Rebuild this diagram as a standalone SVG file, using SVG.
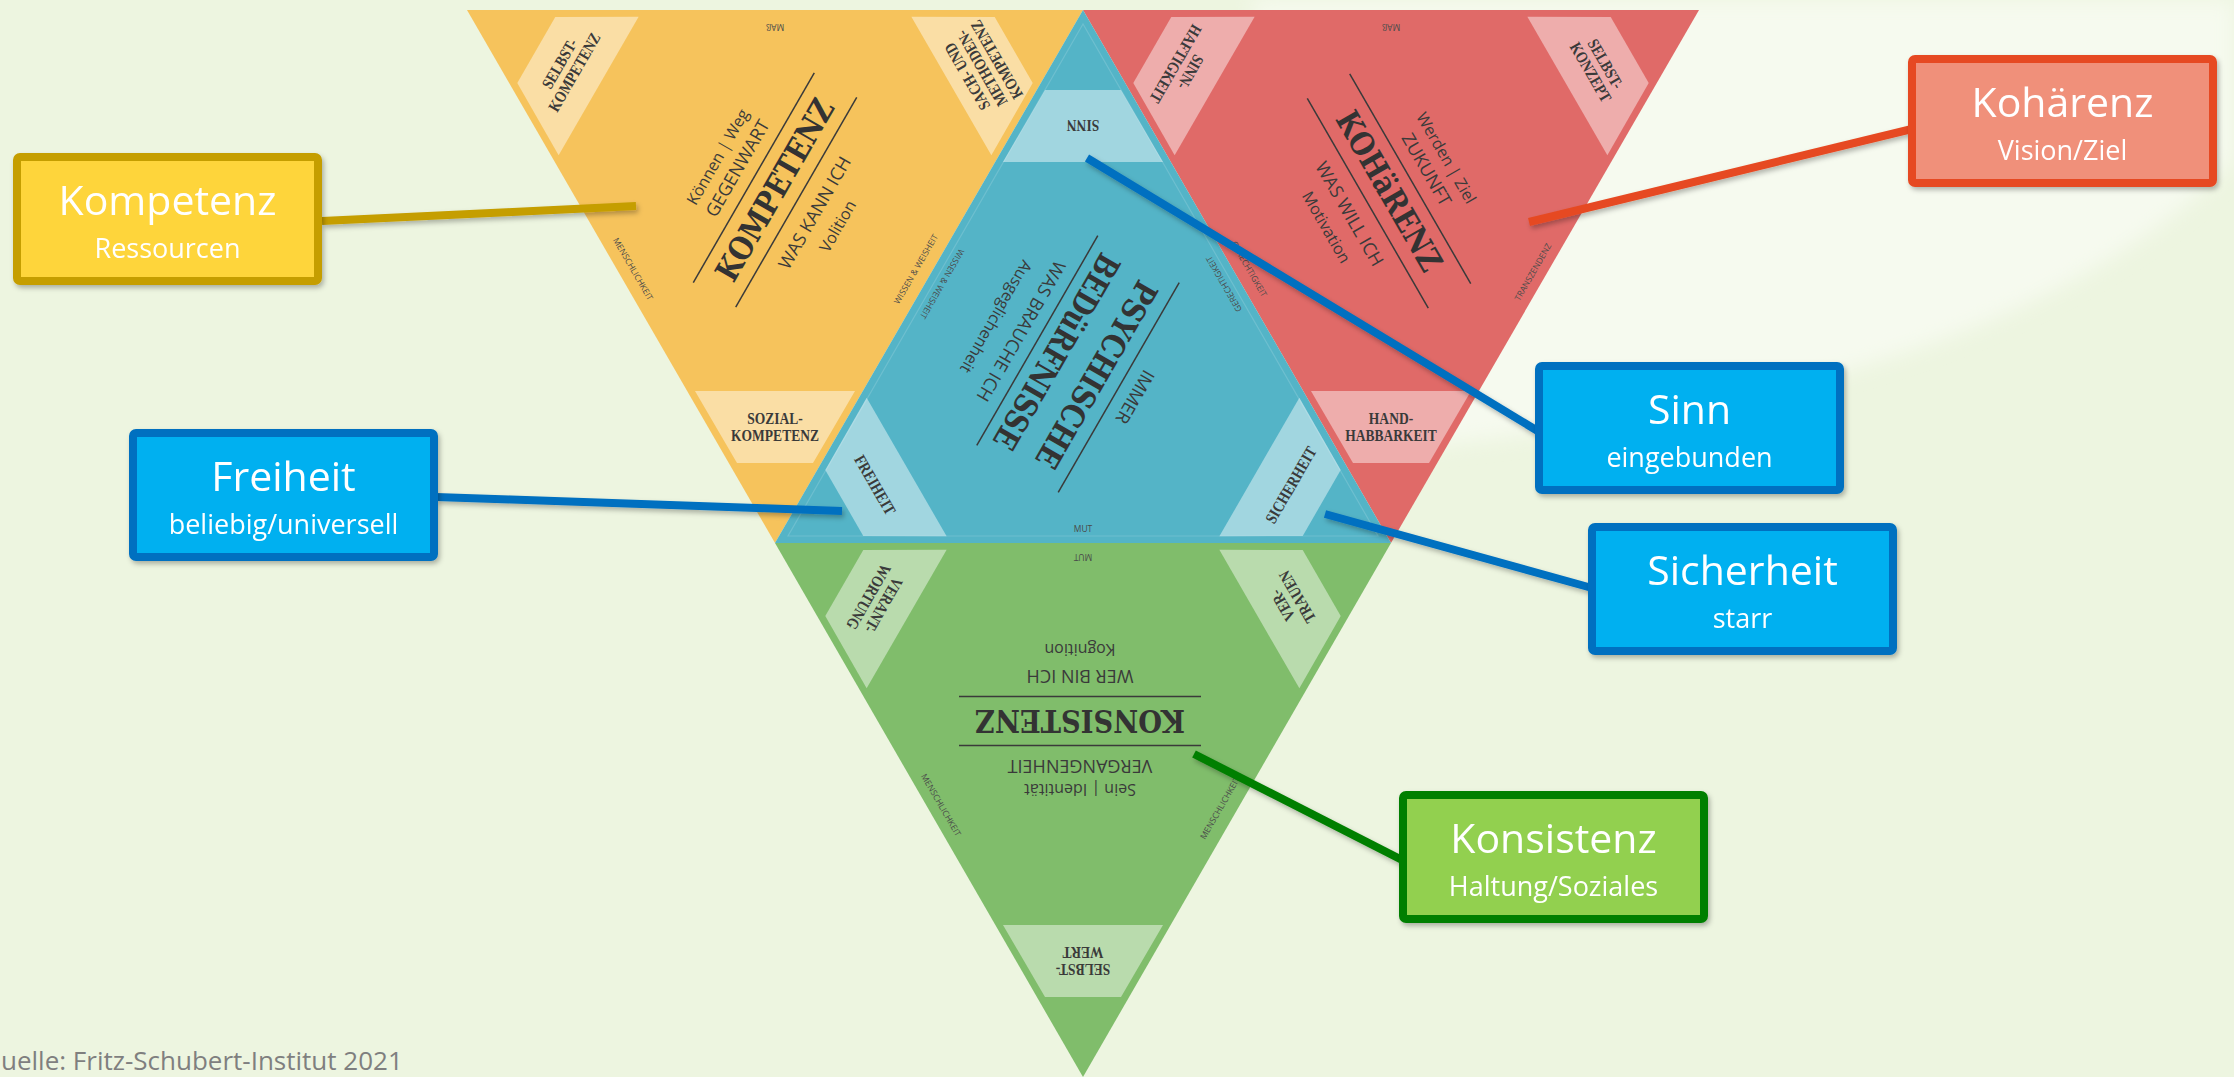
<svg xmlns="http://www.w3.org/2000/svg" width="2234" height="1077" viewBox="0 0 2234 1077">
<defs>
<style>
.bg{fill:#EDF5E0}
.tri-o{fill:#F6C35C}
.tri-r{fill:#E06A68}
.tri-b{fill:#54B4C7}
.tri-g{fill:#80BD6B}
.tab{fill:#ffffff;fill-opacity:0.45}
.tabt{font-family:"Liberation Serif",serif;font-weight:bold;font-size:16.5px;fill:#3a3a3a;text-anchor:middle}
.ttl{font-family:"DejaVu Serif","Liberation Serif",serif;font-weight:bold;font-size:32px;fill:#333333;text-anchor:middle}
.cap{font-family:"Open Sans","Liberation Sans",sans-serif;font-size:18px;fill:#3a3a3a;text-anchor:middle}
.sub{font-family:"Open Sans","Liberation Sans",sans-serif;font-size:16px;fill:#3a3a3a;text-anchor:middle}
.edge{font-family:"Open Sans","Liberation Sans",sans-serif;font-size:8.5px;fill:#4a4a4a;text-anchor:middle}
.rule{stroke:#3a3a3a;stroke-width:1.5}
.bt{font-family:"Open Sans","Liberation Sans",sans-serif;font-size:41px;fill:#ffffff;text-anchor:middle}
.bs{font-family:"Open Sans","Liberation Sans",sans-serif;font-size:27px;fill:#ffffff;text-anchor:middle}
.conn{stroke-width:8;fill:none;stroke-linecap:butt}
.src{font-family:"Open Sans","Liberation Sans",sans-serif;font-size:26px;fill:#7f7f7f}
</style>
<filter id="sh" filterUnits="userSpaceOnUse" x="0" y="0" width="2234" height="1077">
<feDropShadow dx="2" dy="3" stdDeviation="2.5" flood-color="#000000" flood-opacity="0.28"/>
</filter>
<filter id="soft" filterUnits="userSpaceOnUse" x="0" y="0" width="2234" height="1077">
<feGaussianBlur stdDeviation="10"/>
</filter>
<polygon id="tabshape" points="80,-38 152,-80 152,80 80,38"/>
</defs>

<rect class="bg" x="0" y="0" width="2234" height="1077"/>
<path d="M 1380 450 C 1720 420 2050 350 2234 160 L 2234 0 L 1250 0 Z" fill="#F6FAEF" filter="url(#soft)"/>

<g id="triangle-kompetenz">
<polygon class="tri-o" points="467,10 1083,10 775,543"/>
<use href="#tabshape" class="tab" transform="translate(467,10) rotate(30)"/>
<use href="#tabshape" class="tab" transform="translate(1083,10) rotate(150)"/>
<use href="#tabshape" class="tab" transform="translate(775,543) rotate(-90)"/>
<g transform="translate(567,68) rotate(-60) scale(0.82,1)"><text class="tabt" y="-3">SELBST-</text><text class="tabt" y="14">KOMPETENZ</text></g>
<g transform="translate(982,68) rotate(-120) scale(0.82,1)"><text class="tabt" y="-11.5">SACH- UND</text><text class="tabt" y="5.5">METHODEN-</text><text class="tabt" y="22.5">KOMPETENZ</text></g>
<g transform="translate(775,427) scale(0.82,1)"><text class="tabt" y="-3">SOZIAL-</text><text class="tabt" y="14">KOMPETENZ</text></g>
<text class="edge" transform="translate(775,24) rotate(180)">MAß</text>
<text class="edge" transform="translate(633,269) rotate(60)" dy="3">MENSCHLICHKEIT</text>
<text class="edge" transform="translate(916,269) rotate(-60)" dy="3">WISSEN &amp; WEISHEIT</text>
<g transform="translate(775,190) rotate(-60)">
<text class="sub" y="-60.5">Können | Weg</text>
<text class="cap" y="-37">GEGENWART</text>
<line class="rule" x1="-121" y1="-24.5" x2="121" y2="-24.5"/>
<text class="ttl" y="11" textLength="204" lengthAdjust="spacingAndGlyphs">KOMPETENZ</text>
<line class="rule" x1="-121" y1="24.5" x2="121" y2="24.5"/>
<text class="cap" y="52">WAS KANN ICH</text>
<text class="sub" y="78">Volition</text>
</g>
</g>

<g id="triangle-kohaerenz">
<polygon class="tri-r" points="1083,10 1699,10 1391,543"/>
<use href="#tabshape" class="tab" transform="translate(1083,10) rotate(30)"/>
<use href="#tabshape" class="tab" transform="translate(1699,10) rotate(150)"/>
<use href="#tabshape" class="tab" transform="translate(1391,543) rotate(-90)"/>
<g transform="translate(1183,68) rotate(120) scale(0.82,1)"><text class="tabt" y="-3">SINN-</text><text class="tabt" y="14">HAFTIGKEIT</text></g>
<g transform="translate(1598,68) rotate(60) scale(0.82,1)"><text class="tabt" y="-3">SELBST-</text><text class="tabt" y="14">KONZEPT</text></g>
<g transform="translate(1391,427) scale(0.82,1)"><text class="tabt" y="-3">HAND-</text><text class="tabt" y="14">HABBARKEIT</text></g>
<text class="edge" transform="translate(1391,24) rotate(180)">MAß</text>
<text class="edge" transform="translate(1249,269) rotate(60)" dy="3">GERECHTIGKEIT</text>
<text class="edge" transform="translate(1533,272) rotate(-60)" dy="3">TRANSZENDENZ</text>
<g transform="translate(1389,191) rotate(60)">
<text class="sub" y="-60.5">Werden | Ziel</text>
<text class="cap" y="-37">ZUKUNFT</text>
<line class="rule" x1="-121" y1="-24.5" x2="121" y2="-24.5"/>
<text class="ttl" y="11" textLength="179" lengthAdjust="spacingAndGlyphs">KOHäRENZ</text>
<line class="rule" x1="-121" y1="24.5" x2="121" y2="24.5"/>
<text class="cap" y="52">WAS WILL ICH</text>
<text class="sub" y="78">Motivation</text>
</g>
</g>

<g id="triangle-beduerfnisse">
<polygon class="tri-b" points="1083,10 775,543 1391,543"/>
<polygon points="1083,24 788,536 1378,536" fill="none" stroke="#ffffff" stroke-opacity="0.15" stroke-width="1.2"/>
<use href="#tabshape" class="tab" transform="translate(1083,10) rotate(90)"/>
<use href="#tabshape" class="tab" transform="translate(775,543) rotate(-30)"/>
<use href="#tabshape" class="tab" transform="translate(1391,543) rotate(-150)"/>
<g transform="translate(1083,126) rotate(180) scale(0.82,1)"><text class="tabt" y="5.5">SINN</text></g>
<g transform="translate(875,485) rotate(60) scale(0.82,1)"><text class="tabt" y="5.5">FREIHEIT</text></g>
<g transform="translate(1291,485) rotate(-60) scale(0.82,1)"><text class="tabt" y="5.5">SICHERHEIT</text></g>
<text class="edge" transform="translate(942,284) rotate(120)" dy="3">WISSEN &amp; WEISHEIT</text>
<text class="edge" transform="translate(1224,284) rotate(-120)" dy="3">GERECHTIGKEIT</text>
<text class="edge" x="1083" y="532">MUT</text>
<g transform="translate(1078,364) rotate(120)">
<text class="cap" y="-59.5">IMMER</text>
<line class="rule" x1="-121" y1="-47" x2="121" y2="-47"/>
<text class="ttl" y="-10" textLength="210" lengthAdjust="spacingAndGlyphs">PSYCHISCHE</text>
<text class="ttl" y="36" textLength="220" lengthAdjust="spacingAndGlyphs">BEDüRFNISSE</text>
<line class="rule" x1="-121" y1="47" x2="121" y2="47"/>
<text class="cap" y="72">WAS BRAUCHE ICH</text>
<text class="sub" y="100">Ausgeglichenheit</text>
</g>
</g>

<g id="triangle-konsistenz">
<polygon class="tri-g" points="775,543 1391,543 1083,1077"/>
<use href="#tabshape" class="tab" transform="translate(775,543) rotate(30)"/>
<use href="#tabshape" class="tab" transform="translate(1391,543) rotate(150)"/>
<use href="#tabshape" class="tab" transform="translate(1083,1077) rotate(-90)"/>
<g transform="translate(876,601) rotate(120) scale(0.82,1)"><text class="tabt" y="-3">VERANT-</text><text class="tabt" y="14">WORTUNG</text></g>
<g transform="translate(1290,601) rotate(-120) scale(0.82,1)"><text class="tabt" y="-3">VER-</text><text class="tabt" y="14">TRAUEN</text></g>
<g transform="translate(1083,961) rotate(180) scale(0.82,1)"><text class="tabt" y="-3">SELBST-</text><text class="tabt" y="14">WERT</text></g>
<text class="edge" transform="translate(1083,554) rotate(180)">MUT</text>
<text class="edge" transform="translate(941,805) rotate(60)" dy="3">MENSCHLICHKEIT</text>
<text class="edge" transform="translate(1220,808) rotate(-60)" dy="3">MENSCHLICHKEIT</text>
<g transform="translate(1080,721) rotate(180)">
<text class="sub" y="-62.5">Sein | Identität</text>
<text class="cap" y="-38.5">VERGANGENHEIT</text>
<line class="rule" x1="-121" y1="-24.5" x2="121" y2="-24.5"/>
<text class="ttl" y="11" textLength="210" lengthAdjust="spacingAndGlyphs">KONSISTENZ</text>
<line class="rule" x1="-121" y1="24.5" x2="121" y2="24.5"/>
<text class="cap" y="51.5">WER BIN ICH</text>
<text class="sub" y="77.5">Kognition</text>
</g>
</g>

<g id="connectors" filter="url(#sh)">
<line class="conn" stroke="#C59E00" x1="322" y1="221" x2="636" y2="206"/>
<line class="conn" stroke="#0070C0" x1="436" y1="497" x2="842" y2="511"/>
<line class="conn" stroke="#E64A22" x1="1912" y1="129" x2="1529" y2="222"/>
<line class="conn" stroke="#0070C0" x1="1087" y1="158" x2="1541" y2="433"/>
<line class="conn" stroke="#0070C0" x1="1325" y1="514" x2="1592" y2="588"/>
<line class="conn" stroke="#007F00" x1="1194" y1="754" x2="1406" y2="862"/>
</g>

<g id="box-kompetenz" filter="url(#sh)">
<rect x="17" y="157" width="301" height="124" rx="3" fill="#FED53A" stroke="#C59E00" stroke-width="8"/>
<text class="bt" x="167.5" y="215">Kompetenz</text>
<text class="bs" x="167.5" y="258">Ressourcen</text>
</g>
<g id="box-freiheit" filter="url(#sh)">
<rect x="133" y="433" width="301" height="124" rx="3" fill="#00B0F0" stroke="#0070C0" stroke-width="8"/>
<text class="bt" x="283.5" y="491">Freiheit</text>
<text class="bs" x="283.5" y="534">beliebig/universell</text>
</g>
<g id="box-kohaerenz" filter="url(#sh)">
<rect x="1912" y="59" width="301" height="124" rx="3" fill="#F0907A" stroke="#E64A22" stroke-width="8"/>
<text class="bt" x="2062.5" y="117">Kohärenz</text>
<text class="bs" x="2062.5" y="160">Vision/Ziel</text>
</g>
<g id="box-sinn" filter="url(#sh)">
<rect x="1539" y="366" width="301" height="124" rx="3" fill="#00B0F0" stroke="#0070C0" stroke-width="8"/>
<text class="bt" x="1689.5" y="424">Sinn</text>
<text class="bs" x="1689.5" y="467">eingebunden</text>
</g>
<g id="box-sicherheit" filter="url(#sh)">
<rect x="1592" y="527" width="301" height="124" rx="3" fill="#00B0F0" stroke="#0070C0" stroke-width="8"/>
<text class="bt" x="1742.5" y="585">Sicherheit</text>
<text class="bs" x="1742.5" y="628">starr</text>
</g>
<g id="box-konsistenz" filter="url(#sh)">
<rect x="1403" y="795" width="301" height="124" rx="3" fill="#92D050" stroke="#007F00" stroke-width="8"/>
<text class="bt" x="1553.5" y="853">Konsistenz</text>
<text class="bs" x="1553.5" y="896">Haltung/Soziales</text>
</g>

<text class="src" x="1" y="1070">uelle: Fritz-Schubert-Institut 2021</text>
</svg>
